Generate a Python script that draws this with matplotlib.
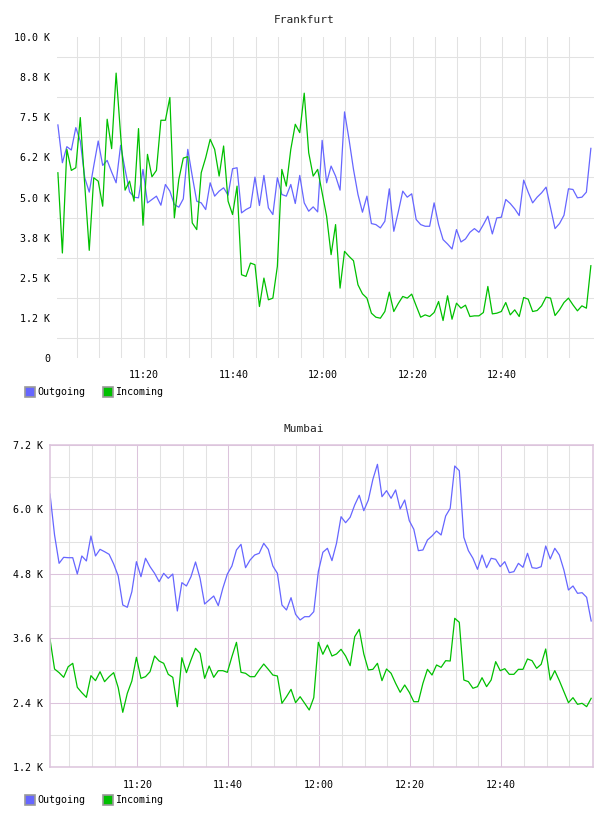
import numpy as np
import matplotlib
matplotlib.use("Agg")
import matplotlib.pyplot as plt
from matplotlib.lines import Line2D

plt.rcParams["font.family"] = "DejaVu Sans Mono"

# one sample per minute, x = minutes after 11:00
start_minute = 0.8
minutes = start_minute + np.arange(120)

time_ticks = [20, 40, 60, 80, 100]
time_labels = ["11:20", "11:40", "12:00", "12:20", "12:40"]

series_names = ["Outgoing", "Incoming"]
series_colors = ["#6666ff", "#00c000"]

# Frankfurt
fra_outgoing = [
    7260, 6083, 6583, 6479, 7177, 6760, 5615, 5167, 5979, 6760,
    6000, 6156, 5792, 5458, 6625, 5875, 5177, 5010, 4990, 5875,
    4833, 4938, 5042, 4760, 5406, 5198, 4781, 4698, 4958, 6500,
    5667, 4885, 4833, 4625, 5458, 5042, 5198, 5302, 5073, 5896,
    5927, 4521, 4625, 4698, 5635, 4750, 5688, 4677, 4469, 5615,
    5094, 5042, 5406, 4813, 5688, 4833, 4573, 4708, 4552, 6781,
    5458, 5979, 5667, 5229, 7667, 6813, 5875, 5094, 4542, 5042,
    4188, 4156, 4052, 4260, 5271, 3948, 4550, 5198, 5010, 5115,
    4313, 4156, 4104, 4104, 4833, 4156, 3688, 3552, 3396, 4000,
    3615, 3708, 3917, 4031, 3917, 4156, 4417, 3865, 4365, 4385,
    4938, 4813, 4646, 4438, 5542, 5167, 4833, 5010, 5146, 5323,
    4677, 4031, 4188, 4448, 5271, 5250, 4990, 5010, 5167, 6531,
]
fra_incoming = [
    5771, 3271, 6500, 5844, 5927, 7490, 5380, 3354, 5615, 5510,
    4729, 7438, 6521, 8875, 6950, 5229, 5510, 4885, 7146, 4135,
    6344, 5646, 5844, 7406, 7406, 8115, 4365, 5563, 6229, 6271,
    4208, 4000, 5771, 6240, 6813, 6500, 5667, 6604, 4885, 4469,
    5354, 2594, 2542, 2958, 2906, 1604, 2490, 1813, 1865, 2854,
    5875, 5354, 6500, 7281, 7021, 8250, 6396, 5667, 5875, 5146,
    4417, 3219, 4156, 2177, 3323, 3167, 3031, 2281, 2000, 1865,
    1396, 1271, 1240, 1448, 2052, 1448, 1698, 1917, 1865, 1990,
    1625, 1271, 1344, 1292, 1417, 1760, 1167, 1938, 1208, 1708,
    1552, 1646, 1292, 1313, 1313, 1417, 2229, 1375, 1396, 1448,
    1729, 1344, 1500, 1292, 1885, 1833, 1448, 1479, 1625, 1896,
    1865, 1323, 1500, 1729, 1865, 1656, 1469, 1625, 1552, 2875,
]
fra_yticks = [0, 1250, 2500, 3750, 5000, 6250, 7500, 8750, 10000]
fra_ylabels = ["0", "1.2 K", "2.5 K", "3.8 K", "5.0 K", "6.2 K", "7.5 K", "8.8 K", "10.0 K"]

# Mumbai
mum_outgoing = [
    6287, 5523, 4995, 5107, 5100, 5100, 4796, 5132, 5039, 5504,
    5132, 5256, 5212, 5163, 4983, 4759, 4219, 4176, 4467, 5026,
    4746, 5089, 4933, 4809, 4653, 4809, 4716, 4796, 4107, 4635,
    4573, 4746, 5020, 4716, 4237, 4312, 4386, 4206, 4529, 4796,
    4945, 5244, 5349, 4914, 5057, 5150, 5182, 5368, 5256, 4945,
    4809, 4219, 4126, 4355, 4045, 3939, 4001, 4001, 4094, 4840,
    5201, 5275, 5045, 5368, 5864, 5752, 5853, 6082, 6263, 5976,
    6175, 6561, 6840, 6237, 6349, 6207, 6362, 6008, 6175, 5790,
    5629, 5231, 5244, 5430, 5505, 5598, 5523, 5877, 6020, 6809,
    6721, 5480, 5231, 5089, 4884, 5150, 4914, 5089, 5070, 4933,
    5026, 4821, 4840, 4995, 4921, 5182, 4914, 4902, 4933, 5318,
    5076, 5275, 5150, 4871, 4498, 4573, 4436, 4448, 4362, 3921,
]
mum_incoming = [
    3585, 3026, 2958, 2871, 3069, 3132, 2685, 2585, 2498, 2902,
    2809, 2976, 2790, 2883, 2958, 2678, 2219, 2573, 2803, 3244,
    2852, 2883, 2976, 3268, 3175, 3132, 2927, 2871, 2324, 3237,
    2958, 3194, 3411, 3318, 2852, 3082, 2871, 2995, 2995, 2964,
    3256, 3523, 2964, 2946, 2883, 2883, 3008, 3119, 3020, 2914,
    2896, 2387, 2510, 2647, 2399, 2510, 2387, 2262, 2492, 3523,
    3300, 3473, 3268, 3306, 3393, 3268, 3088, 3628, 3765, 3306,
    3008, 3020, 3132, 2809, 3026, 2946, 2759, 2592, 2728, 2592,
    2417, 2417, 2759, 3020, 2914, 3101, 3057, 3181, 3175, 3971,
    3896, 2821, 2790, 2667, 2697, 2864, 2697, 2821, 3163, 2995,
    3032, 2927, 2927, 3020, 3020, 3213, 3181, 3039, 3113, 3399,
    2821, 2995, 2809, 2604, 2399, 2492, 2368, 2387, 2324, 2480,
]
mum_yticks = [1200, 2400, 3600, 4800, 6000, 7200]
mum_ylabels = ["1.2 K", "2.4 K", "3.6 K", "4.8 K", "6.0 K", "7.2 K"]

W, H = 608, 816
fig = plt.figure(figsize=(W / 100, H / 100), dpi=100)

grey = "#e2e2e2"
pink = "#dcc4dc"
fs = 7.2
glw = 0.75


def add_legend(y_px):
    handles = [Line2D([], [], marker="s", linestyle="none", markersize=7.6,
                      markerfacecolor=c, markeredgecolor="#9a9a9a", markeredgewidth=1.2)
               for c in series_colors]
    fig.legend(handles, series_names, loc="center left",
               bbox_to_anchor=(24 / W, 1 - y_px / H), ncol=2, frameon=False,
               fontsize=fs, handlelength=1.2, handletextpad=0.15, columnspacing=1.6,
               borderpad=0, borderaxespad=0)


# ---- Frankfurt ----
ax1 = fig.add_axes([57 / W, 1 - 358 / H, 537 / W, 321 / H])
ax1.plot(minutes, fra_outgoing, color=series_colors[0], lw=0.9)
ax1.plot(minutes, fra_incoming, color=series_colors[1], lw=0.9)
ax1.set_xlim(0.6, 120.5)
ax1.set_ylim(0, 10000)
ax1.set_yticks(fra_yticks)
ax1.set_yticklabels(fra_ylabels)
ax1.set_yticks(np.array(fra_yticks[:-1]) + 625, minor=True)
ax1.set_xticks(time_ticks)
ax1.set_xticklabels(time_labels)
ax1.set_xticks(np.arange(5, 120, 5), minor=True)
ax1.grid(axis="y", which="minor", color=grey, lw=glw)
ax1.grid(axis="x", which="both", color=grey, lw=glw)
ax1.set_axisbelow(True)
for s in ax1.spines.values():
    s.set_visible(False)
ax1.tick_params(which="both", length=0, labelsize=fs)
ax1.tick_params(axis="y", pad=5)
ax1.tick_params(axis="x", pad=9)
fig.text(0.5, 1 - 20 / H, "Frankfurt", ha="center", va="center", fontsize=8, color="#222222")
add_legend(392)

# ---- Mumbai ----
ax2 = fig.add_axes([50 / W, 1 - 767 / H, 543 / W, 322 / H])
ax2.plot(minutes, mum_outgoing, color=series_colors[0], lw=0.9)
ax2.plot(minutes, mum_incoming, color=series_colors[1], lw=0.9)
ax2.set_xlim(0.8, 120.2)
ax2.set_ylim(1200, 7200)
ax2.set_yticks(mum_yticks)
ax2.set_yticklabels(mum_ylabels)
ax2.set_yticks(np.array(mum_yticks[:-1]) + 600, minor=True)
ax2.set_xticks(time_ticks)
ax2.set_xticklabels(time_labels)
ax2.set_xticks([m for m in range(5, 120, 5) if m % 20], minor=True)
ax2.grid(which="minor", color=grey, lw=glw)
ax2.grid(which="major", color=pink, lw=glw)
ax2.set_axisbelow(True)
for s in ax2.spines.values():
    s.set_color(pink)
    s.set_linewidth(1.1)
ax2.tick_params(which="both", length=0, labelsize=fs)
ax2.tick_params(axis="y", pad=5)
ax2.tick_params(axis="x", pad=9)
fig.text(0.5, 1 - 429 / H, "Mumbai", ha="center", va="center", fontsize=8, color="#222222")
add_legend(800)

fig.savefig("out.png", dpi=100)
